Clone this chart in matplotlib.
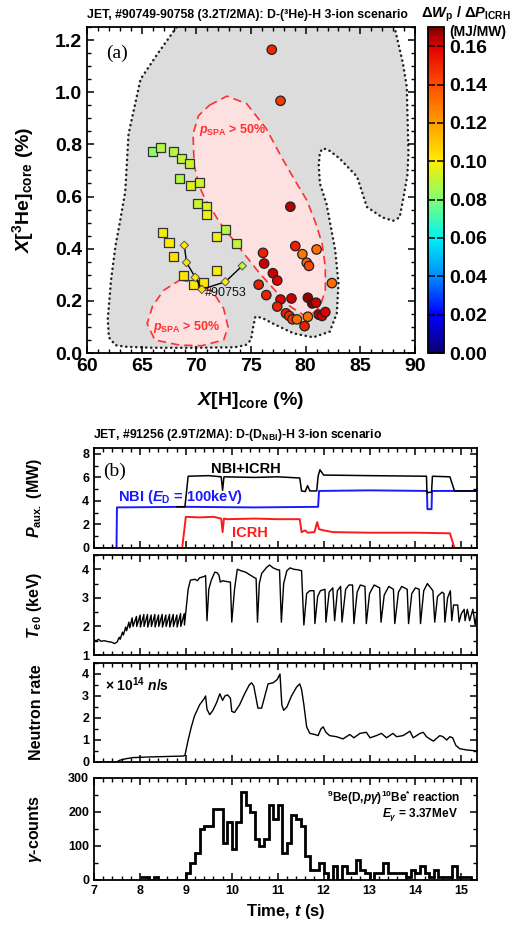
import numpy as np
import matplotlib
matplotlib.use("Agg")
import matplotlib.pyplot as plt
from matplotlib.patches import Polygon
from matplotlib.ticker import MultipleLocator
from matplotlib.colors import Normalize, LinearSegmentedColormap

plt.rcParams.update({
    "font.family": ["Liberation Sans", "DejaVu Sans"],
    "font.weight": "bold",
    "axes.labelweight": "bold",
    "mathtext.fontset": "custom",
    "mathtext.rm": "Liberation Sans:bold",
    "mathtext.it": "Liberation Sans:italic:bold",
    "mathtext.bf": "Liberation Sans:bold",
    "axes.linewidth": 1.3,
})

# ---------------- panel (a) data ----------------
sq_x = [65.95, 66.7, 67.9, 68.6, 69.4, 68.5, 69.5, 70.25, 70.1, 70.9, 70.9,
        72.7, 71.8, 73.7, 66.9, 67.5, 67.9, 71.8, 68.8, 69.7, 70.7]
sq_y = [0.774, 0.789, 0.774, 0.746, 0.725, 0.668, 0.642, 0.655, 0.573, 0.561, 0.532,
        0.472, 0.446, 0.419, 0.461, 0.423, 0.370, 0.318, 0.298, 0.262, 0.269]
sq_c = [0.082, 0.088, 0.088, 0.090, 0.092, 0.088, 0.095, 0.093, 0.092, 0.094, 0.098,
        0.088, 0.097, 0.090, 0.098, 0.100, 0.103, 0.100, 0.102, 0.102, 0.102]

dia_x = [68.9, 69.1, 69.9, 70.5, 72.65, 74.2]
dia_y = [0.413, 0.347, 0.290, 0.244, 0.273, 0.334]
dia_c = [0.100, 0.102, 0.100, 0.103, 0.100, 0.090]

circ_x = [76.9, 77.7, 78.6, 79.05, 79.7, 81.0, 80.1, 80.3, 76.1, 76.2, 77.0, 77.4,
          75.7, 76.4, 77.7, 78.7, 77.4, 80.2, 80.6, 80.95, 78.2, 78.5, 78.8, 79.2,
          80.2, 79.9, 81.2, 81.5, 81.8, 82.4]
circ_y = [1.163, 0.967, 0.561, 0.410, 0.379, 0.397, 0.346, 0.334, 0.384, 0.343, 0.306, 0.278,
          0.262, 0.222, 0.205, 0.209, 0.178, 0.212, 0.190, 0.193, 0.152, 0.142, 0.129, 0.129,
          0.139, 0.103, 0.147, 0.142, 0.157, 0.268]
circ_c = [0.150, 0.145, 0.164, 0.152, 0.130, 0.132, 0.132, 0.142, 0.152, 0.162, 0.162, 0.160,
          0.152, 0.152, 0.160, 0.162, 0.152, 0.168, 0.170, 0.162, 0.152, 0.148, 0.145, 0.132,
          0.132, 0.152, 0.164, 0.162, 0.160, 0.132]

gray_x = [68.8, 68.2, 66.5, 64.9, 63.8, 63.5, 63.0, 62.6, 62.2, 61.9, 62.0, 62.6, 63.5, 66.0,
          70.0, 73.5, 74.5, 75.0, 75.2, 75.4, 76.0, 77.0, 78.9, 80.7, 82.2, 82.85, 83.0, 82.7,
          81.9, 81.3, 81.2, 81.3, 81.6, 82.2, 83.1, 84.7, 85.6, 87.0, 88.0, 88.6, 88.9, 89.3,
          89.4, 89.25, 88.9, 88.2, 87.9]
gray_y = [1.30, 1.25, 1.15, 1.05, 0.84, 0.62, 0.50, 0.41, 0.28, 0.13, 0.06, 0.03, 0.024, 0.02,
          0.02, 0.022, 0.03, 0.05, 0.10, 0.139, 0.135, 0.113, 0.075, 0.06, 0.082, 0.152, 0.267, 0.395,
          0.573, 0.65, 0.72, 0.77, 0.785, 0.775, 0.746, 0.676, 0.56, 0.52, 0.507, 0.52, 0.586, 0.68,
          0.765, 1.02, 1.11, 1.237, 1.30]

spa_big_x = [71.2, 72.8, 74.6, 76.4, 77.8, 79.0, 80.1, 80.9, 81.5, 81.8, 81.8, 81.3,
             80.6, 79.8, 78.6, 77.2, 75.8, 74.0, 72.2, 70.8, 70.3, 69.8, 69.7, 70.2]
spa_big_y = [0.95, 0.985, 0.956, 0.86, 0.75, 0.663, 0.586, 0.50, 0.42, 0.33, 0.24, 0.178,
             0.15, 0.146, 0.178, 0.24, 0.305, 0.40, 0.497, 0.59, 0.637, 0.72, 0.84, 0.91]
spa_small_x = [68.5, 70.3, 71.6, 72.5, 72.9, 72.5, 70.5, 68.5, 66.2, 65.5, 66.0, 67.0]
spa_small_y = [0.28, 0.267, 0.229, 0.17, 0.10, 0.05, 0.028, 0.03, 0.05, 0.113, 0.18, 0.24]

cbar_ticks = [0.00, 0.02, 0.04, 0.06, 0.08, 0.10, 0.12, 0.14, 0.16]

# ---------------- panel (b) data ----------------
nbi_t = [7.0, 7.49, 7.50, 9.0, 10.5, 11.88, 11.90, 13.0, 14.25, 14.26, 14.35, 14.36, 15.34]
nbi_p = [0.0, 0.0, 3.45, 3.5, 3.45, 3.5, 4.85, 4.9, 4.85, 3.3, 3.3, 4.85, 4.85]

icrh_t = [8.85, 8.92, 9.0, 9.3, 9.6, 9.77, 9.80, 9.83, 9.9, 10.5, 11.0, 11.48, 11.52, 11.6,
          11.65, 11.8, 11.86, 11.9, 12.0, 12.2, 13.0, 14.0, 14.75, 14.85, 15.0]
icrh_p = [0.0, 0.0, 2.65, 2.6, 2.65, 2.5, 1.35, 2.5, 2.45, 2.5, 2.45, 2.45, 1.35, 1.5,
          1.3, 1.35, 2.2, 1.6, 1.5, 1.35, 1.3, 1.3, 1.25, 0.0, 0.0]

tot_t = [8.8, 8.98, 9.05, 9.5, 9.77, 9.80, 9.83, 10.5, 11.0, 11.48, 11.52, 11.6, 11.65, 11.7,
         11.85, 11.88, 11.92, 12.0, 13.0, 14.24, 14.25, 14.35, 14.37, 14.75, 14.85, 15.34]
tot_p = [3.5, 3.5, 6.1, 6.15, 6.05, 4.9, 6.05, 6.0, 6.05, 5.95, 4.85, 4.8, 5.3, 4.85,
         4.85, 6.1, 6.65, 6.2, 6.15, 6.1, 4.7, 4.75, 6.1, 6.05, 4.85, 4.85]

te_t = [7.00, 7.05, 7.10, 7.15, 7.22, 7.30, 7.38, 7.45, 7.50, 7.55, 7.57, 7.62, 7.64, 7.69,
        7.71, 7.76, 7.78, 7.83, 7.85,
        7.925, 7.93, 8.005, 8.01, 8.085, 8.09, 8.165, 8.17, 8.245, 8.25, 8.325, 8.33, 8.405,
        8.41, 8.485, 8.49, 8.565, 8.57, 8.645, 8.65, 8.725, 8.73, 8.805, 8.81, 8.885, 8.89,
        8.965, 8.97,
        9.05, 9.1, 9.2, 9.25, 9.3, 9.4, 9.43, 9.46, 9.50, 9.55, 9.63, 9.68, 9.72, 9.75, 9.80,
        9.86, 9.97, 10.00, 10.06, 10.12, 10.2, 10.3, 10.4, 10.5, 10.53, 10.56, 10.60, 10.65,
        10.75, 10.82, 10.9, 11.0, 11.04, 11.08, 11.13, 11.2, 11.27, 11.35, 11.45, 11.52, 11.57,
        11.63, 11.70, 11.79, 11.81, 11.87, 11.93, 12.03, 12.05, 12.12, 12.20, 12.24, 12.30,
        12.37, 12.40, 12.48, 12.55, 12.63, 12.66, 12.73, 12.80, 12.90, 12.93, 13.00, 13.10,
        13.22, 13.25, 13.32, 13.42, 13.52, 13.55, 13.63, 13.70, 13.82, 13.85, 13.92, 14.00,
        14.08, 14.11, 14.18, 14.26, 14.38, 14.42, 14.48, 14.58, 14.62, 14.64, 14.70, 14.76,
        14.79, 14.83, 14.92, 14.95, 15.00, 15.06, 15.08, 15.13, 15.18, 15.25, 15.30, 15.34]
te_v = [1.52, 1.50, 1.55, 1.48, 1.50, 1.47, 1.45, 1.40, 1.45, 1.62, 1.55, 1.80, 1.70, 1.98,
        1.85, 2.15, 1.95, 2.30, 2.00,
        2.35, 2.00, 2.40, 1.98, 2.42, 2.00, 2.42, 1.98, 2.40, 2.00, 2.42, 1.98, 2.40,
        2.00, 2.42, 1.98, 2.40, 2.00, 2.42, 1.98, 2.42, 2.00, 2.40, 1.98, 2.45, 2.00,
        2.45, 2.05,
        3.30, 3.62, 3.65, 3.60, 3.70, 3.75, 3.78, 2.20, 3.30, 3.60, 3.90, 3.88, 3.80, 3.55, 3.60,
        3.58, 3.55, 2.15, 3.30, 4.00, 3.95, 3.90, 3.80, 3.70, 3.68, 2.15, 3.50, 3.85,
        4.05, 4.15, 4.05, 3.98, 3.98, 2.15, 3.50, 3.95, 4.05, 4.00, 3.98, 3.95, 2.05,
        3.15, 3.25, 3.25, 2.10, 3.05, 3.25, 3.30, 2.15, 3.20, 3.35, 2.20, 3.25,
        3.40, 2.15, 3.30, 3.45, 3.45, 2.10, 3.20, 3.45, 3.40, 2.10, 3.15, 3.45,
        3.35, 2.15, 3.10, 3.40, 3.30, 2.10, 3.20, 3.40, 3.30, 2.10, 3.15, 3.35,
        3.30, 2.10, 3.25, 3.50, 3.25, 2.15, 3.05, 3.20, 3.15, 2.15, 3.00, 3.25,
        2.20, 2.75, 2.75, 2.15, 2.45, 2.60, 2.20, 2.60, 2.20, 2.60, 2.05, 2.50]

neut_t = [7.0, 7.49, 7.56, 7.70, 7.85, 8.21, 8.58, 8.94, 8.98, 9.05, 9.12, 9.19, 9.30, 9.39,
          9.43, 9.46, 9.52, 9.59, 9.67, 9.74, 9.80, 9.85, 9.91, 9.97, 10.0, 10.06, 10.17, 10.28,
          10.38, 10.43, 10.48, 10.52, 10.57, 10.65, 10.72, 10.79, 10.90, 10.99, 11.05, 11.09,
          11.13, 11.2, 11.3, 11.41, 11.48, 11.52, 11.57, 11.63, 11.70, 11.81, 11.88, 11.94,
          11.99, 12.05, 12.13, 12.28, 12.42, 12.57, 12.66, 12.79, 12.93, 13.01, 13.15, 13.26,
          13.37, 13.51, 13.59, 13.73, 13.88, 13.95, 14.10, 14.17, 14.24, 14.31, 14.39, 14.53,
          14.60, 14.68, 14.75, 14.81, 14.88, 14.97, 15.11, 15.34]
neut_v = [0.0, 0.0, 0.08, 0.15, 0.20, 0.23, 0.25, 0.27, 0.30, 1.0, 1.6, 2.1, 2.6, 2.85,
          3.0, 2.4, 2.15, 2.35, 2.7, 3.1, 2.8, 3.0, 3.05, 2.9, 2.3, 2.25, 2.6, 3.1,
          3.5, 3.6, 3.45, 3.0, 2.45, 2.45, 3.0, 3.55, 3.6, 3.75, 4.0, 2.6,
          2.35, 2.5, 3.0, 3.4, 3.55, 3.3, 2.6, 1.6, 1.3, 1.25, 1.2, 1.5,
          1.6, 1.35, 1.2, 1.15, 1.05, 1.25, 1.1, 1.3, 1.35, 1.1, 1.2, 1.3,
          1.1, 1.3, 1.15, 1.2, 1.4, 1.1, 1.3, 1.35, 1.15, 1.05, 0.95, 1.2,
          1.15, 1.0, 1.15, 1.1, 0.75, 0.6, 0.55, 0.5]

gam_start, gam_width = 8.0, 0.1
gam_counts = [10, 10, 0, 10, 0, 0, 0, 0, 0, 0,
              20, 50, 80, 150, 160, 160, 210, 210, 110, 170,
              90, 170, 260, 220, 200, 120, 100, 120, 220, 180,
              220, 80, 110, 190, 180, 160, 70, 30, 30, 50,
              20, 0, 40, 0, 40, 20, 20, 60, 30, 20,
              0, 20, 20, 50, 20, 20, 20, 20, 10, 30,
              20, 40, 20, 10, 30, 10, 10, 10, 40, 10,
              10, 10, 0]

W, H = 528, 927
fig = plt.figure(figsize=(W / 100, H / 100), dpi=100)


def box(l, t, r, b):
    return [l / W, 1 - b / H, (r - l) / W, (b - t) / H]


def style(ax, size):
    ax.tick_params(which="both", direction="in", top=True, right=True, labelsize=size)
    ax.tick_params(which="major", length=5, width=1.1)
    ax.tick_params(which="minor", length=2.8, width=1.0)


# rainbow colour table similar to the IDL one used in the figure
cmap = LinearSegmentedColormap.from_list("rainbow_idl", [
    (0.00, (0.05, 0.0, 0.45)),
    (0.02 / 0.17, (0.0, 0.0, 1.0)),
    (0.04 / 0.17, (0.0, 0.55, 1.0)),
    (0.06 / 0.17, (0.0, 0.95, 0.95)),
    (0.08 / 0.17, (0.5, 1.0, 0.45)),
    (0.10 / 0.17, (1.0, 0.93, 0.0)),
    (0.12 / 0.17, (1.0, 0.62, 0.0)),
    (0.14 / 0.17, (1.0, 0.3, 0.0)),
    (0.16 / 0.17, (0.88, 0.0, 0.0)),
    (1.00, (0.5, 0.0, 0.0)),
])
norm = Normalize(0, 0.17)

# ---------------- panel (a) ----------------
axa = fig.add_axes(box(87, 27, 415, 353))

gray = Polygon(np.column_stack([gray_x, gray_y]), closed=True, facecolor="#dcdcdc",
               edgecolor="#222222", lw=1.8, ls=(0, (0.1, 1.9)), zorder=1)
gray.set_capstyle("round")
axa.add_patch(gray)
for px, py in [(spa_big_x, spa_big_y), (spa_small_x, spa_small_y)]:
    axa.add_patch(Polygon(np.column_stack([px, py]), closed=True, facecolor="#fde0e0",
                          edgecolor="#ff3030", lw=1.2, ls=(0, (5, 3)), zorder=2))

axa.scatter(sq_x, sq_y, c=sq_c, cmap=cmap, norm=norm, marker="s", s=42,
            edgecolors="#333333", linewidths=0.9, zorder=4)
axa.plot(dia_x, dia_y, color="black", lw=1.0, zorder=5)
axa.scatter(dia_x, dia_y, c=dia_c, cmap=cmap, norm=norm, marker="D", s=18,
            edgecolors="#555555", linewidths=0.7, zorder=6)
axa.scatter(circ_x, circ_y, c=circ_c, cmap=cmap, norm=norm, marker="o", s=46,
            edgecolors="#222222", linewidths=0.9, zorder=4)

axa.text(70.8, 0.23, "#90753", fontsize=9, fontweight="normal", color="#111111",
         va="center", ha="left", zorder=7)
axa.text(73.3, 0.855, r"$\mathit{p}_{\mathrm{SPA}}$ > 50%", color="#ff3030", fontsize=9,
         ha="center", va="center", zorder=7)
axa.text(69.1, 0.10, r"$\mathit{p}_{\mathrm{SPA}}$ > 50%", color="#ff3030", fontsize=9,
         ha="center", va="center", zorder=7)
axa.text(62.7, 1.15, "(a)", family="Liberation Serif", fontweight="normal", fontsize=14,
         ha="center", va="center")

axa.set_xlim(60, 90)
axa.set_ylim(0, 1.25)
axa.xaxis.set_major_locator(MultipleLocator(5))
axa.xaxis.set_minor_locator(MultipleLocator(1))
axa.yaxis.set_major_locator(MultipleLocator(0.2))
axa.yaxis.set_minor_locator(MultipleLocator(0.05))
axa.yaxis.set_major_formatter(plt.FormatStrFormatter("%.1f"))
style(axa, 14)
axa.set_xlabel(r"$\mathit{X}$[H]$_{\mathrm{core}}$ (%)", fontsize=14)
axa.set_ylabel(r"$\mathit{X}$[$^{\mathrm{3}}$He]$_{\mathrm{core}}$ (%)", fontsize=14)
axa.xaxis.set_label_coords(0.5, -0.115)
axa.yaxis.set_label_coords(-0.155, 0.5)

cax = fig.add_axes(box(428, 27, 444, 353))
sm = plt.cm.ScalarMappable(norm=norm, cmap=cmap)
cb = fig.colorbar(sm, cax=cax, ticks=cbar_ticks)
cb.ax.yaxis.set_major_formatter(plt.FormatStrFormatter("%.2f"))
cax.tick_params(direction="in", left=True, right=True, length=5, width=1.1,
                color="black", labelsize=14)
cb.outline.set_linewidth(1.3)

fig.text(247 / W, 1 - 15 / H, "JET, #90749-90758 (3.2T/2MA): D-(\u00b3He)-H 3-ion scenario",
         ha="center", va="center", fontsize=8.8)
fig.text(466 / W, 1 - 14 / H, r"$\Delta\mathit{W}_{\mathrm{p}}$ / $\Delta\mathit{P}_{\mathrm{ICRH}}$",
         ha="center", va="center", fontsize=10.5)
fig.text(478 / W, 1 - 32 / H, "(MJ/MW)", ha="center", va="center", fontsize=10)

# ---------------- panel (b) ----------------
rows = [(448, 548), (555, 655), (663, 762), (778, 880)]
axs = [fig.add_axes(box(94, t, 477, b)) for t, b in rows]
ax1, ax2, ax3, ax4 = axs

ax1.plot(nbi_t, nbi_p, color="#1a1aff", lw=1.4)
ax1.plot(icrh_t, icrh_p, color="#ff1a1a", lw=1.4)
ax1.plot(tot_t, tot_p, color="black", lw=1.1)
ax1.set_ylim(0, 8.5)
ax1.yaxis.set_major_locator(MultipleLocator(2))
ax1.yaxis.set_minor_locator(MultipleLocator(1))
ax1.text(7.45, 6.5, "(b)", family="Liberation Serif", fontweight="normal", fontsize=14,
         ha="center", va="center")
ax1.text(10.3, 6.75, "NBI+ICRH", fontsize=10.5, ha="center", va="center")
ax1.text(7.52, 4.3, r"NBI ($\mathit{E}_{\mathrm{D}}$ = 100keV)", fontsize=10.5, color="#1a1aff",
         ha="left", va="center")
ax1.text(10.4, 1.25, "ICRH", fontsize=10.5, color="#ff1a1a", ha="center", va="center")
ax1.set_ylabel(r"$\mathit{P}_{\mathrm{aux.}}$ (MW)", fontsize=11.5)

ax2.plot(te_t, te_v, color="black", lw=1.0)
ax2.set_ylim(1, 4.5)
ax2.yaxis.set_major_locator(MultipleLocator(1))
ax2.yaxis.set_minor_locator(MultipleLocator(0.5))
ax2.set_ylabel(r"$\mathit{T}_{\mathrm{e0}}$ (keV)", fontsize=11.5)

ax3.plot(neut_t, neut_v, color="black", lw=1.0)
ax3.set_ylim(0, 4.5)
ax3.yaxis.set_major_locator(MultipleLocator(1))
ax3.yaxis.set_minor_locator(MultipleLocator(0.5))
ax3.text(7.25, 3.5, r"$\times$ 10$^{\mathrm{14}}$ $\mathit{n}$/s", fontsize=10, ha="left", va="center")
ax3.set_ylabel("Neutron rate", fontsize=11.5)

gam_edges = gam_start + gam_width * np.arange(len(gam_counts) + 1)
ax4.stairs(gam_counts, gam_edges, color="black", lw=2.0, baseline=None)
ax4.set_ylim(0, 300)
ax4.yaxis.set_major_locator(MultipleLocator(100))
ax4.yaxis.set_minor_locator(MultipleLocator(50))
ax4.text(14.97, 242, r"$^{\mathrm{9}}$Be(D,$\mathit{p\gamma}$)$^{\mathrm{10}}$Be$^{*}$ reaction",
         fontsize=8.6, ha="right", va="center")
ax4.text(14.93, 192, r"$\mathit{E}_{\gamma}$ = 3.37MeV", fontsize=8.6, ha="right", va="center")
ax4.set_ylabel(r"$\gamma$-counts", fontsize=11.5)
ax4.set_xlabel(r"Time, $\mathit{t}$ (s)", fontsize=12)

for ax in axs:
    ax.set_xlim(7, 15.34)
    ax.xaxis.set_major_locator(MultipleLocator(1))
    ax.xaxis.set_minor_locator(MultipleLocator(0.2))
    style(ax, 9)
    ax.yaxis.set_label_coords(-0.13, 0.5)
    if ax is not ax4:
        ax.tick_params(labelbottom=False)

fig.text(93 / W, 1 - 435 / H, r"JET, #91256 (2.9T/2MA): D-(D$_{\mathrm{NBI}}$)-H 3-ion scenario",
         ha="left", va="center", fontsize=8.8)

fig.savefig("out.png", dpi=100)
